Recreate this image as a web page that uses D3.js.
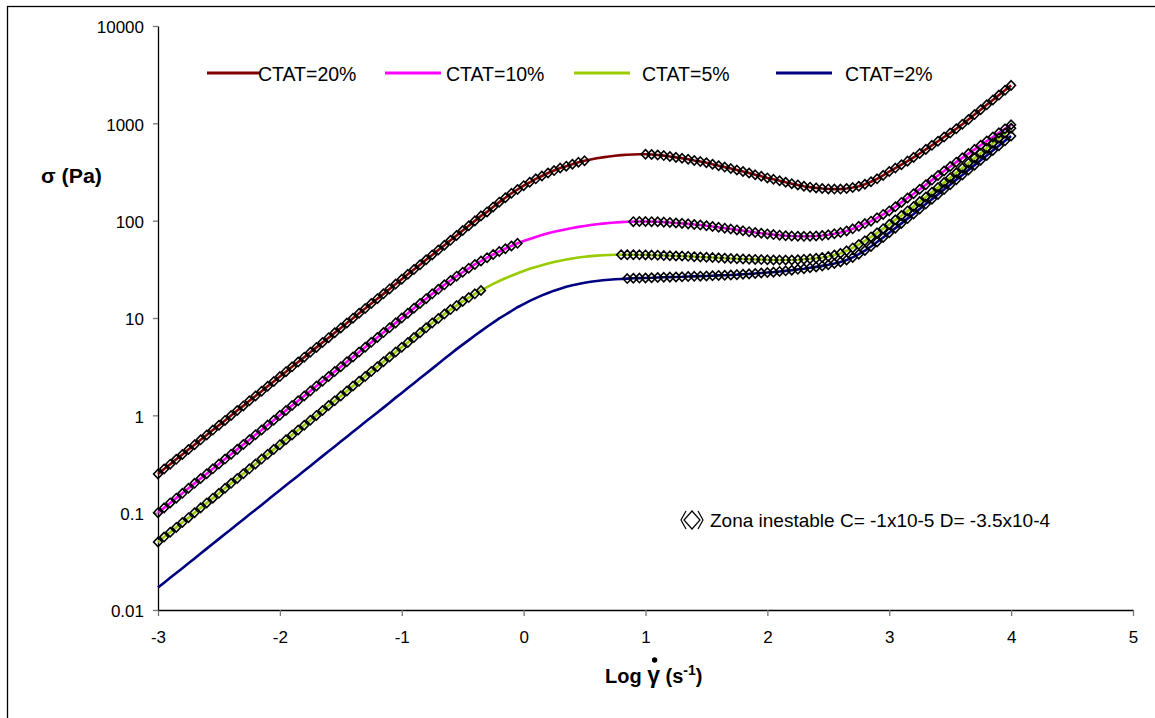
<!DOCTYPE html>
<html lang="es">

<head>
    <meta charset="UTF-8">
    <title>Curvas de flujo CTAT</title>
    <script src="https://d3js.org/d3.v7.min.js"></script>
    <style>
        body {
            margin: 0;
            background: #fff;
        }

        svg text {
            font-family: "Liberation Sans", Arial, sans-serif;
            fill: #000;
        }

        .axis path {
            stroke: #000;
            stroke-width: 1.3px;
        }

        .axis line {
            stroke: #777;
            stroke-width: 1.3px;
        }

        .axis text {
            font-size: 17px;
        }

        .curve {
            fill: none;
            stroke-width: 2.6px;
        }

        .marker {
            fill: none;
            stroke: #000;
            stroke-width: 1.6px;
        }
    </style>
</head>

<body>
    <svg width="1155" height="718"></svg>

    <script>
        // Log of shear rate (x axis), shared by all four curves
        const logShearRate = [
            -3, -2.95, -2.9, -2.85, -2.8, -2.75, -2.7, -2.65, -2.6, -2.55,
            -2.5, -2.45, -2.4, -2.35, -2.3, -2.25, -2.2, -2.15, -2.1, -2.05,
            -2, -1.95, -1.9, -1.85, -1.8, -1.75, -1.7, -1.65, -1.6, -1.55,
            -1.5, -1.45, -1.4, -1.35, -1.3, -1.25, -1.2, -1.15, -1.1, -1.05,
            -1, -0.95, -0.9, -0.85, -0.8, -0.75, -0.7, -0.65, -0.6, -0.55,
            -0.5, -0.45, -0.4, -0.35, -0.3, -0.25, -0.2, -0.15, -0.1, -0.05,
            0, 0.05, 0.1, 0.15, 0.2, 0.25, 0.3, 0.35, 0.4, 0.45,
            0.5, 0.55, 0.6, 0.65, 0.7, 0.75, 0.8, 0.85, 0.9, 0.95,
            1, 1.05, 1.1, 1.15, 1.2, 1.25, 1.3, 1.35, 1.4, 1.45,
            1.5, 1.55, 1.6, 1.65, 1.7, 1.75, 1.8, 1.85, 1.9, 1.95,
            2, 2.05, 2.1, 2.15, 2.2, 2.25, 2.3, 2.35, 2.4, 2.45,
            2.5, 2.55, 2.6, 2.65, 2.7, 2.75, 2.8, 2.85, 2.9, 2.95,
            3, 3.05, 3.1, 3.15, 3.2, 3.25, 3.3, 3.35, 3.4, 3.45,
            3.5, 3.55, 3.6, 3.65, 3.7, 3.75, 3.8, 3.85, 3.9, 3.95,
            4
        ];

        // Shear stress sigma (Pa) for each concentration
        const ctat20 = [
            0.25, 0.281, 0.315, 0.353, 0.396, 0.445, 0.499, 0.56, 0.628, 0.705,
            0.791, 0.887, 0.995, 1.12, 1.25, 1.41, 1.58, 1.77, 1.99, 2.23,
            2.5, 2.81, 3.15, 3.53, 3.96, 4.45, 4.99, 5.6, 6.28, 7.05,
            7.91, 8.87, 9.95, 11.2, 12.5, 14.1, 15.8, 17.7, 19.9, 22.3,
            25, 28.1, 31.5, 35.3, 39.6, 44.5, 49.9, 56, 62.8, 70.5,
            79.1, 88.7, 99.5, 112, 123, 138, 155, 172, 191, 209,
            229, 248, 269, 288, 309, 327, 347, 363, 380, 398,
            412, 425, 437, 447, 457, 465, 471, 475, 479, 481,
            481, 479, 473, 466, 457, 447, 437, 427, 415, 405,
            394, 380, 367, 355, 343, 331, 320, 309, 296, 286,
            275, 266, 257, 248, 240, 233, 226, 221, 217, 214,
            212, 211, 211, 214, 219, 226, 237, 251, 269, 292,
            320, 347, 376, 409, 447, 490, 540, 594, 655, 724,
            794, 881, 977, 1096, 1230, 1380, 1549, 1738, 1950, 2188,
            2455
        ];
        const ctat10 = [
            0.1, 0.112, 0.126, 0.141, 0.158, 0.178, 0.2, 0.224, 0.251, 0.282,
            0.316, 0.355, 0.398, 0.447, 0.501, 0.562, 0.631, 0.708, 0.794, 0.891,
            1, 1.12, 1.26, 1.41, 1.58, 1.78, 2, 2.24, 2.51, 2.82,
            3.16, 3.55, 3.98, 4.47, 5.01, 5.62, 6.31, 7.08, 7.94, 8.91,
            10, 11.2, 12.6, 14.1, 15.8, 17.7, 19.7, 21.9, 24.3, 26.9,
            29.5, 32.4, 35.5, 38.5, 41.7, 44.9, 48.2, 51.5, 55.0, 58.5,
            61.7, 64.9, 68.1, 71.1, 74.1, 76.9, 79.4, 81.8, 84.1, 86.3,
            88.3, 90.2, 91.8, 93.3, 94.6, 95.7, 96.6, 97.3, 97.7, 97.9,
            97.9, 97.7, 97.3, 96.6, 95.7, 94.8, 93.8, 92.7, 91.4, 90.2,
            88.7, 87.1, 85.5, 83.8, 82.0, 80.4, 78.7, 77.1, 75.7, 74.3,
            73.1, 71.9, 71.0, 70.1, 69.5, 69.2, 69.0, 69.2, 69.7, 70.5,
            71.6, 73.3, 75.5, 78.5, 82.4, 87.5, 93.3, 98.9, 107, 116,
            126, 139, 154, 171, 189, 210, 234, 261, 291, 324,
            360, 399, 442, 489, 540, 596, 658, 724, 798, 879,
            966
        ];
        const ctat5 = [
            0.05, 0.0561, 0.0629, 0.0706, 0.0792, 0.0889, 0.0998, 0.112, 0.126, 0.141,
            0.158, 0.178, 0.2, 0.224, 0.251, 0.282, 0.316, 0.355, 0.398, 0.447,
            0.5, 0.561, 0.629, 0.706, 0.792, 0.889, 0.998, 1.12, 1.26, 1.41,
            1.58, 1.78, 2, 2.24, 2.51, 2.82, 3.16, 3.55, 3.98, 4.47,
            5, 5.61, 6.29, 7.06, 7.92, 8.89, 9.89, 11.0, 12.2, 13.4,
            14.8, 16.2, 17.7, 19.2, 20.8, 22.4, 24.0, 25.6, 27.2, 28.8,
            30.4, 32.0, 33.5, 34.9, 36.3, 37.6, 38.8, 39.9, 40.9, 41.8,
            42.6, 43.2, 43.7, 44.1, 44.4, 44.6, 44.7, 44.7, 44.7, 44.6,
            44.5, 44.3, 44.1, 43.9, 43.7, 43.4, 43.3, 43.0, 42.7, 42.4,
            42.1, 41.8, 41.5, 41.2, 40.9, 40.6, 40.4, 40.2, 40.0, 39.8,
            39.6, 39.5, 39.4, 39.4, 39.5, 39.7, 40.1, 40.6, 41.1, 41.9,
            42.9, 44.4, 46.2, 49.0, 52.5, 56.9, 62.1, 68.1, 75.0, 82.8,
            91.6, 102, 113, 126, 140, 157, 175, 196, 219, 246,
            276, 310, 348, 391, 440, 494, 556, 625, 703, 791,
            891
        ];
        const ctat2 = [
            0.017, 0.0191, 0.0214, 0.024, 0.0269, 0.0302, 0.0339, 0.0381, 0.0427, 0.0479,
            0.0538, 0.0603, 0.0677, 0.076, 0.0852, 0.0956, 0.107, 0.12, 0.135, 0.152,
            0.17, 0.191, 0.214, 0.24, 0.269, 0.302, 0.339, 0.381, 0.427, 0.479,
            0.538, 0.603, 0.677, 0.76, 0.852, 0.956, 1.07, 1.2, 1.35, 1.52,
            1.7, 1.91, 2.14, 2.4, 2.69, 3.02, 3.39, 3.81, 4.27, 4.79,
            5.33, 5.93, 6.61, 7.33, 8.13, 8.97, 9.89, 10.8, 11.8, 12.9,
            13.9, 15.0, 16.0, 17.1, 18.1, 19.1, 20.0, 20.9, 21.7, 22.4,
            23.0, 23.6, 24.0, 24.4, 24.7, 25.0, 25.2, 25.4, 25.6, 25.7,
            25.8, 25.9, 26.1, 26.2, 26.3, 26.4, 26.5, 26.7, 26.8, 26.9,
            27.0, 27.2, 27.4, 27.5, 27.7, 27.9, 28.2, 28.4, 28.7, 29.0,
            29.3, 29.6, 30.1, 30.5, 31.0, 31.6, 32.1, 32.8, 33.5, 34.3,
            35.2, 36.3, 37.7, 39.4, 41.9, 45.2, 49.3, 54.3, 60.3, 67.1,
            75.0, 83.8, 93.8, 105, 117, 132, 148, 166, 186, 209,
            234, 263, 295, 331, 372, 417, 468, 525, 589, 661,
            741
        ];

        // Ranges of log shear rate marked with diamonds (zona inestable)
        const unstable20 = [[-3, 0.5], [1, 4]];
        const unstable10 = [[-3, -0.05], [0.9, 4]];
        const unstable5 = [[-3, -0.35], [0.8, 4]];
        const unstable2 = [[0.85, 4]];

        const seriesNames = ["CTAT=20%", "CTAT=10%", "CTAT=5%", "CTAT=2%"];
        const seriesColors = ["#800000", "#FF00FF", "#99CC00", "#000080"];

        const xTicks = [-3, -2, -1, 0, 1, 2, 3, 4, 5];
        const yTicks = [0.01, 0.1, 1, 10, 100, 1000, 10000];
        const noteText = "Zona inestable C= -1x10-5 D= -3.5x10-4";

        const series = [
            { name: seriesNames[0], color: seriesColors[0], values: ctat20, marked: unstable20 },
            { name: seriesNames[1], color: seriesColors[1], values: ctat10, marked: unstable10 },
            { name: seriesNames[2], color: seriesColors[2], values: ctat5, marked: unstable5 },
            { name: seriesNames[3], color: seriesColors[3], values: ctat2, marked: unstable2 }
        ];

        const svg = d3.select("svg");

        // outer chart frame (only top and left edges fall inside the picture)
        svg.append("rect")
            .attr("x", 7.5)
            .attr("y", 6.5)
            .attr("width", 1160)
            .attr("height", 730)
            .attr("fill", "none")
            .attr("stroke", "#000")
            .attr("stroke-width", 1.3);

        const x = d3.scaleLinear().domain([-3, 5]).range([158, 1133]);
        const y = d3.scaleLog().domain([0.01, 10000]).range([610, 26]);

        // axes
        svg.append("g")
            .attr("class", "axis")
            .attr("transform", "translate(0,610)")
            .call(d3.axisBottom(x)
                .tickValues(xTicks)
                .tickSizeInner(6)
                .tickSizeOuter(0)
                .tickPadding(15)
                .tickFormat(d => String(d)));

        svg.append("g")
            .attr("class", "axis")
            .attr("transform", "translate(158,0)")
            .call(d3.axisLeft(y)
                .tickValues(yTicks)
                .tickSizeInner(5)
                .tickSizeOuter(0)
                .tickPadding(9)
                .tickFormat(d => String(d)))
            .selectAll("text")
            .attr("dy", "0.4em");

        const line = d3.line()
            .x((d, i) => x(logShearRate[i]))
            .y(d => y(d));

        // curves first, the hollow diamonds go on top of them
        svg.append("g")
            .selectAll("path")
            .data(series)
            .join("path")
            .attr("class", "curve")
            .attr("stroke", d => d.color)
            .attr("d", d => line(d.values));

        const diamond = "M0,-4.6L4.4,0L0,4.6L-4.4,0Z";

        function inRanges(v, ranges) {
            return ranges.some(r => v >= r[0] - 1e-6 && v <= r[1] + 1e-6);
        }

        series.forEach(s => {
            const pts = s.values
                .map((v, i) => ({ lx: logShearRate[i], v: v }))
                .filter(p => inRanges(p.lx, s.marked));
            svg.append("g")
                .selectAll("path")
                .data(pts)
                .join("path")
                .attr("class", "marker")
                .attr("transform", p => `translate(${x(p.lx)},${y(p.v)})`)
                .attr("d", diamond);
        });

        // legend row at the top
        const legendPos = [
            { x1: 207, x2: 260, tx: 258 },
            { x1: 385, x2: 441, tx: 446 },
            { x1: 574, x2: 630, tx: 642 },
            { x1: 776, x2: 832, tx: 845 }
        ];
        const legend = svg.append("g");
        series.forEach((s, i) => {
            const p = legendPos[i];
            legend.append("line")
                .attr("x1", p.x1).attr("x2", p.x2)
                .attr("y1", 73).attr("y2", 73)
                .attr("stroke", s.color)
                .attr("stroke-width", 3);
            legend.append("text")
                .attr("x", p.tx)
                .attr("y", 81)
                .style("font-size", "19.5px")
                .text(s.name);
        });

        // note for the diamond markers
        const note = svg.append("g").attr("transform", "translate(692,520)");
        note.append("path")
            .attr("d", "M0,-9L8,0L0,9L-8,0Z")
            .attr("fill", "none")
            .attr("stroke", "#000")
            .attr("stroke-width", 1.2);
        note.append("path")
            .attr("d", "M-6,-9L-11,0L-6,9M6,-9L11,0L6,9")
            .attr("fill", "none")
            .attr("stroke", "#000")
            .attr("stroke-width", 1.2);
        svg.append("text")
            .attr("x", 710)
            .attr("y", 527)
            .style("font-size", "19px")
            .text(noteText);

        // axis titles
        svg.append("text")
            .attr("x", 41)
            .attr("y", 183)
            .attr("textLength", 61)
            .attr("lengthAdjust", "spacingAndGlyphs")
            .style("font-size", "20px")
            .style("font-weight", "bold")
            .text("σ (Pa)");

        const xt = svg.append("text")
            .attr("x", 605)
            .attr("y", 683)
            .style("font-size", "20px")
            .style("font-weight", "bold");
        xt.append("tspan").text("Log ");
        xt.append("tspan").style("font-size", "23px").text("γ");
        xt.append("tspan").text(" (s");
        xt.append("tspan").attr("dy", -8).style("font-size", "14px").text("-1");
        xt.append("tspan").attr("dy", 8).text(")");

        // dot over gamma (rate of shear)
        const node = xt.node();
        const gStart = node.getStartPositionOfChar(4);
        const gEnd = node.getEndPositionOfChar(4);
        svg.append("circle")
            .attr("cx", (gStart.x + gEnd.x) / 2 + 1)
            .attr("cy", 660)
            .attr("r", 2.7)
            .attr("fill", "#000");
    </script>
</body>

</html>
